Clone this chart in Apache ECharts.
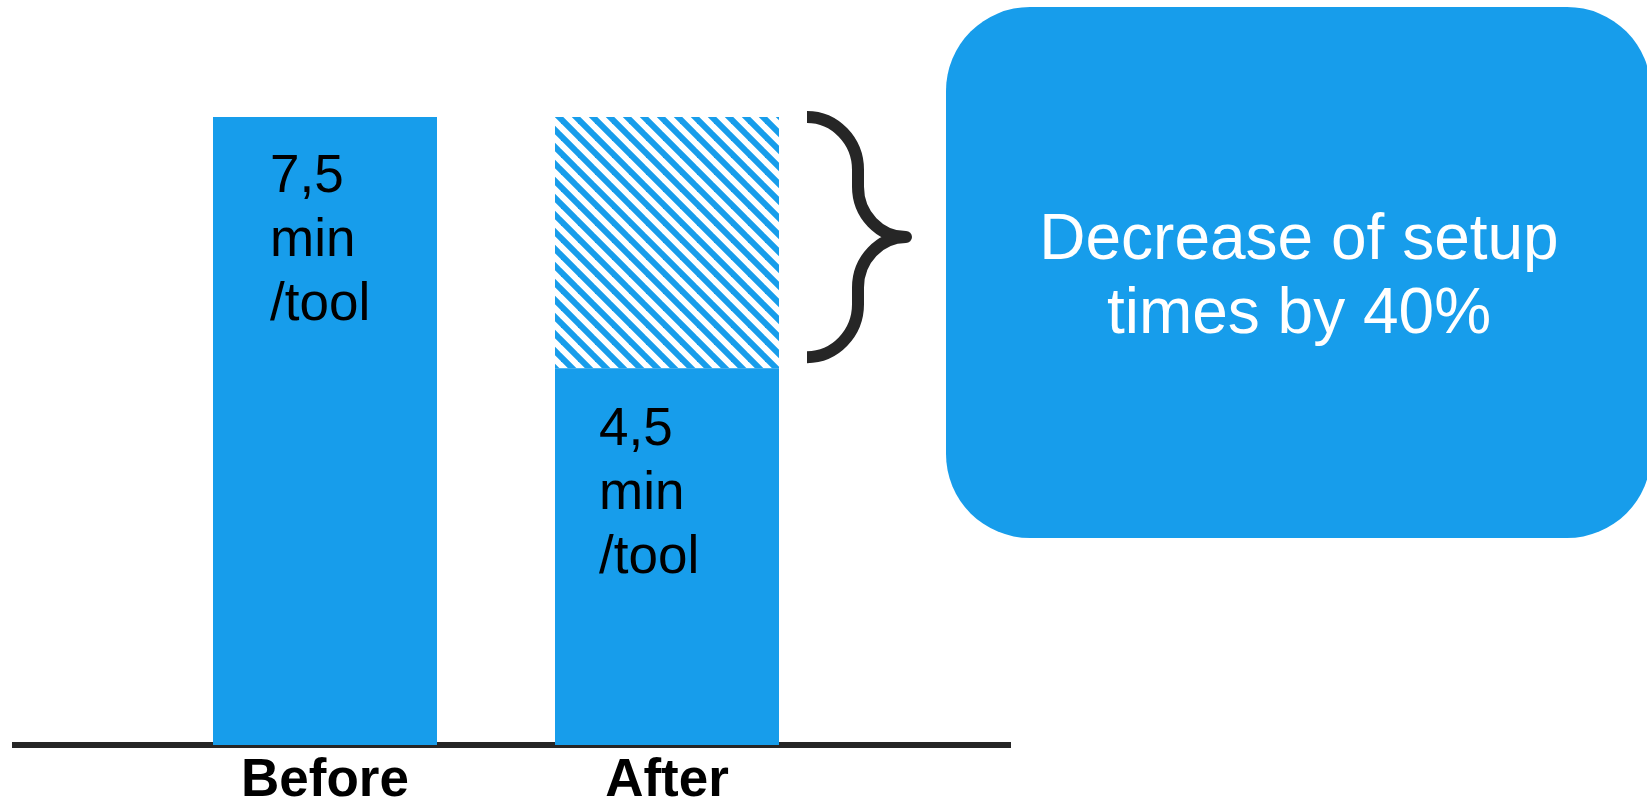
<!DOCTYPE html>
<html>
<head>
<meta charset="utf-8">
<title>Setup time per tool</title>
<style>
  html, body { margin: 0; padding: 0; background: #ffffff; }
  #chart { width: 1647px; height: 802px; }
</style>
<script src="https://cdn.jsdelivr.net/npm/echarts@6/dist/echarts.min.js"></script>
</head>
<body>
<div id="chart"></div>
<script>
// ---- data ----
const categories = ['Before', 'After'];
const setupTime = [7.5, 4.5];      // minutes per tool
const timeSaved = [null, 3.0];     // minutes per tool removed by the new procedure
const unitText = 'min\n/tool';
const calloutText = 'Decrease of setup\ntimes by 40%';

// ---- styling ----
const BLUE = '#179DEB';
const INK = '#262626';
const FONT = "'Liberation Sans', Arial, Helvetica, sans-serif";
const BAR_WIDTH = 224;
const labelOffsets = [[57, 28], [44, 30]];   // value label placement inside each bar

// Diagonal stripe tile used for the saved-time segment
function stripeTile() {
  const s = 17;
  const c = document.createElement('canvas');
  c.width = s; c.height = s;
  const g = c.getContext('2d');
  g.strokeStyle = BLUE;
  g.lineWidth = 6;
  for (const k of [-1, 0, 1]) {
    g.beginPath();
    g.moveTo(-s, k * s - s);
    g.lineTo(2 * s, k * s + 2 * s);
    g.stroke();
  }
  return c;
}

const fmt = v => String(v.toFixed(1)).replace('.', ',');

// Curly brace spanning the saved-time segment
function renderBrace(params, api) {
  const top = api.coord([api.value(0), api.value(1)]);
  const bot = api.coord([api.value(0), api.value(2)]);
  const x0 = top[0] + BAR_WIDTH / 2 + 28;
  const y0 = top[1];
  const y1 = bot[1] - 11;
  const h = (y1 - y0) / 2;
  const ym = y0 + h;
  const w1 = 51, w2 = 48, K = 0.55;
  const a = 0.44 * h, b = 0.14 * h, c = 0.42 * h;
  const xv = x0 + w1, xt = x0 + w1 + w2;
  const d = [
    `M${x0},${y0}`,
    `C${x0 + K * w1},${y0} ${xv},${y0 + a - K * a} ${xv},${y0 + a}`,
    `L${xv},${y0 + a + b}`,
    `C${xv},${y0 + a + b + K * c} ${xt - K * w2},${ym} ${xt},${ym}`,
    `C${xt - K * w2},${ym} ${xv},${ym + c - K * c} ${xv},${ym + c}`,
    `L${xv},${y1 - a}`,
    `C${xv},${y1 - a + K * a} ${x0 + K * w1},${y1} ${x0},${y1}`
  ].join(' ');
  return {
    type: 'path',
    shape: { pathData: d },
    style: { fill: 'none', stroke: INK, lineWidth: 12, lineCap: 'butt', lineJoin: 'round' },
    silent: true
  };
}

const chart = echarts.init(document.getElementById('chart'), null, { renderer: 'canvas' });

chart.setOption({
  animation: false,
  backgroundColor: '#ffffff',
  grid: [
    { left: 154, width: 684, top: 117, bottom: 57, outerBoundsMode: 'none', containLabel: false },
    { left: 12, right: 636, top: 117, bottom: 57, outerBoundsMode: 'none', containLabel: false }
  ],
  xAxis: [
    {
      type: 'category', gridIndex: 0, data: categories,
      axisLine: { show: false }, axisTick: { show: false },
      axisLabel: {
        color: '#000', fontFamily: FONT, fontSize: 53, fontWeight: 'bold',
        lineHeight: 53, margin: 10
      }
    },
    {
      type: 'value', gridIndex: 1, min: 0, max: 1,
      axisLine: { show: true, onZero: false, lineStyle: { color: INK, width: 6, cap: 'butt' } },
      axisTick: { show: false }, axisLabel: { show: false }, splitLine: { show: false }
    }
  ],
  yAxis: [
    { type: 'value', gridIndex: 0, min: 0, max: 7.5, show: false },
    { type: 'value', gridIndex: 1, min: 0, max: 7.5, show: false }
  ],
  series: [
    {
      name: 'Setup time', type: 'bar', stack: 'time', barWidth: BAR_WIDTH,
      xAxisIndex: 0, yAxisIndex: 0,
      data: setupTime.map((v, i) => ({ value: v, label: { position: labelOffsets[i] } })),
      itemStyle: { color: BLUE },
      label: {
        show: true, align: 'left', verticalAlign: 'top',
        formatter: p => fmt(p.value) + '\n' + unitText,
        color: '#000', fontFamily: FONT, fontSize: 53, lineHeight: 64
      },
      silent: true
    },
    {
      name: 'Time saved', type: 'bar', stack: 'time', barWidth: BAR_WIDTH,
      xAxisIndex: 0, yAxisIndex: 0,
      data: timeSaved,
      itemStyle: { color: { image: stripeTile(), repeat: 'repeat' } },
      silent: true
    },
    {
      name: 'Reduction', type: 'custom', xAxisIndex: 0, yAxisIndex: 0,
      clip: false, silent: true,
      data: [[1, setupTime[1] + timeSaved[1], setupTime[1]]],
      renderItem: renderBrace
    }
  ],
  graphic: [
    {
      type: 'rect', silent: true,
      shape: { x: 946, y: 7, width: 705, height: 531, r: 84 },
      style: { fill: BLUE }
    },
    {
      type: 'text', silent: true, x: 1299, y: 278,
      style: {
        text: calloutText, fill: '#ffffff', fontFamily: FONT, fontSize: 64,
        lineHeight: 74, align: 'center', verticalAlign: 'middle'
      }
    }
  ]
});
</script>
</body>
</html>
